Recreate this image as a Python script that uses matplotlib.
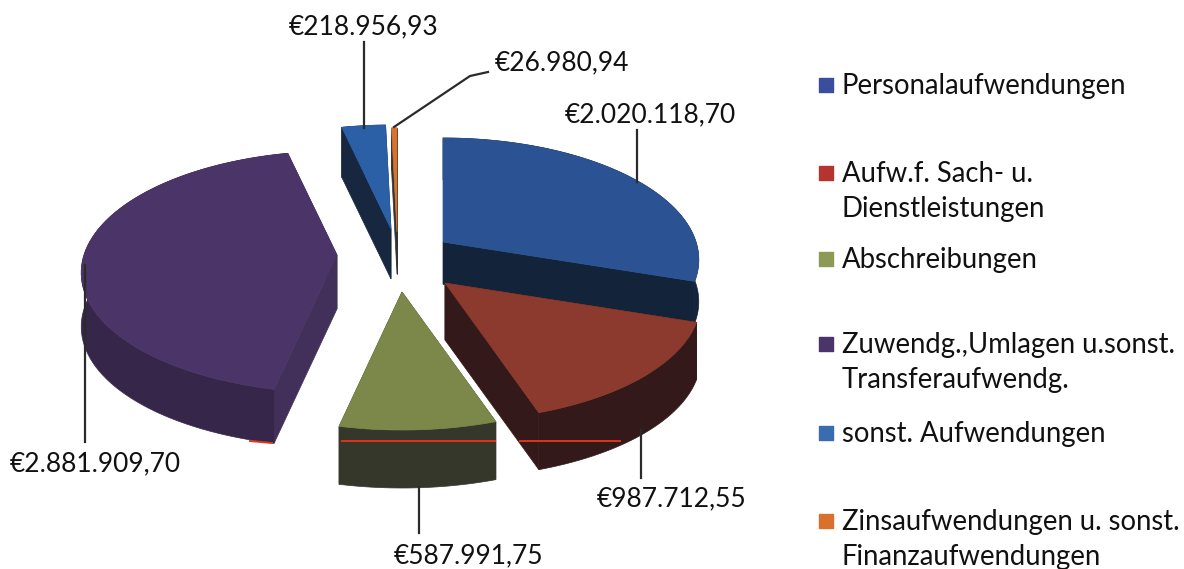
import numpy as np
import matplotlib
matplotlib.use('Agg')
import matplotlib.pyplot as plt
from matplotlib.patches import Polygon

# Values
names = ['Personalaufwendungen', 'Aufw.f. Sach- u.\nDienstleistungen', 'Abschreibungen',
         'Zuwendg.,Umlagen u.sonst.\nTransferaufwendg.', 'sonst. Aufwendungen',
         'Zinsaufwendungen u. sonst.\nFinanzaufwendungen']
values = [2020118.70, 987712.55, 587991.75, 2881909.70, 218956.93, 26980.94]
value_labels = ['€2.020.118,70', '€987.712,55', '€587.991,75', '€2.881.909,70', '€218.956,93', '€26.980,94']

# Colours
top_colors = ['#2b5393', '#8b3a2d', '#7c8849', '#4a3468', '#2c60a6', '#d8722c']
radial_colors = ['#13233a', '#33191a', '#35372a', '#43305a', '#16273f', '#333333']
arc_colors = ['#13233a', '#33191a', '#35372a', '#36274a', '#16273f', '#333333']
legend_colors = ['#3a4f9b', '#b4352f', '#8c9a56', '#4a3468', '#3a6db0', '#d9702d']

# Layout, in picture pixels
apex_x = [443, 445, 402, 337, 391, 397]
apex_y = [242, 283, 292, 255, 229, 232]
depths = [42, 57, 58, 54, 50, 42]
draw_order = [4, 5, 0, 3, 1, 2]
label_x = [650, 672, 469, 95, 364, 495]
label_y = [115, 499, 556, 464, 27, 63]
label_ha = ['center', 'center', 'center', 'center', 'center', 'left']
legend_y = [85, 173, 259, 344, 433, 521]
leaders = [([637, 637], [130, 182]), ([641, 641], [430, 478]), ([419, 419], [487, 533]),
           ([85, 85], [265, 442]), ([364, 364], [42, 128]), ([394, 470, 488], [127, 76, 72])]
scan_lines = [([342, 495], [441, 441]), ([520, 620], [441, 441]), ([250, 272], [441, 443])]


def rim(angles):
    # flattened circle seen from above, the near part is a bit bigger
    c = np.cos(angles)
    s = np.sin(angles)
    return 253 * s * (1 - 0.15 * c), -c * (121 - 17 * c)


fig = plt.figure(figsize=(11.84, 5.69), dpi=100)
ax = fig.add_axes([0, 0, 1, 1])
ax.set_xlim(0, 1184)
ax.set_ylim(569, 0)
ax.axis('off')

plt.rcParams['font.family'] = ['Lato', 'DejaVu Sans']

ends = np.cumsum(values) / sum(values) * 2 * np.pi
starts = np.concatenate([[0], ends[:-1]])

for i in draw_order:
    t = np.linspace(starts[i], ends[i], 80)
    dx, dy = rim(t)
    x = apex_x[i] + dx
    y = apex_y[i] + dy
    d = depths[i]
    z = 2 + 3 * draw_order.index(i)

    # the two cut faces first
    for px, py in [(x[0], y[0]), (x[-1], y[-1])]:
        face = [(apex_x[i], apex_y[i]), (px, py), (px, py + d), (apex_x[i], apex_y[i] + d)]
        ax.add_patch(Polygon(face, fc=radial_colors[i], ec=radial_colors[i], lw=0.5, zorder=z))

    # outer wall
    wall = list(zip(x, y)) + list(zip(x[::-1], y[::-1] + d))
    ax.add_patch(Polygon(wall, fc=arc_colors[i], ec=arc_colors[i], lw=0.5, zorder=z + 1))

    # top
    top = [(apex_x[i], apex_y[i])] + list(zip(x, y))
    ax.add_patch(Polygon(top, fc=top_colors[i], ec=top_colors[i], lw=0.5, zorder=z + 2))

for lx, ly in scan_lines:
    ax.plot(lx, ly, color='#e0331a', lw=1.4, zorder=40)

for lx, ly in leaders:
    ax.plot(lx, ly, color='#2b2b2b', lw=1.6, zorder=50)

for i in range(len(values)):
    ax.text(label_x[i], label_y[i], value_labels[i], fontsize=19, ha=label_ha[i], va='center', color='#111111', zorder=60)

    ax.scatter([826], [legend_y[i]], marker='s', s=110, color=legend_colors[i], zorder=60)
    ax.text(842, legend_y[i] - 12, names[i], fontsize=19.8, ha='left', va='top', linespacing=1.42, color='#111111', zorder=60)

plt.savefig('out.png', dpi=100)
